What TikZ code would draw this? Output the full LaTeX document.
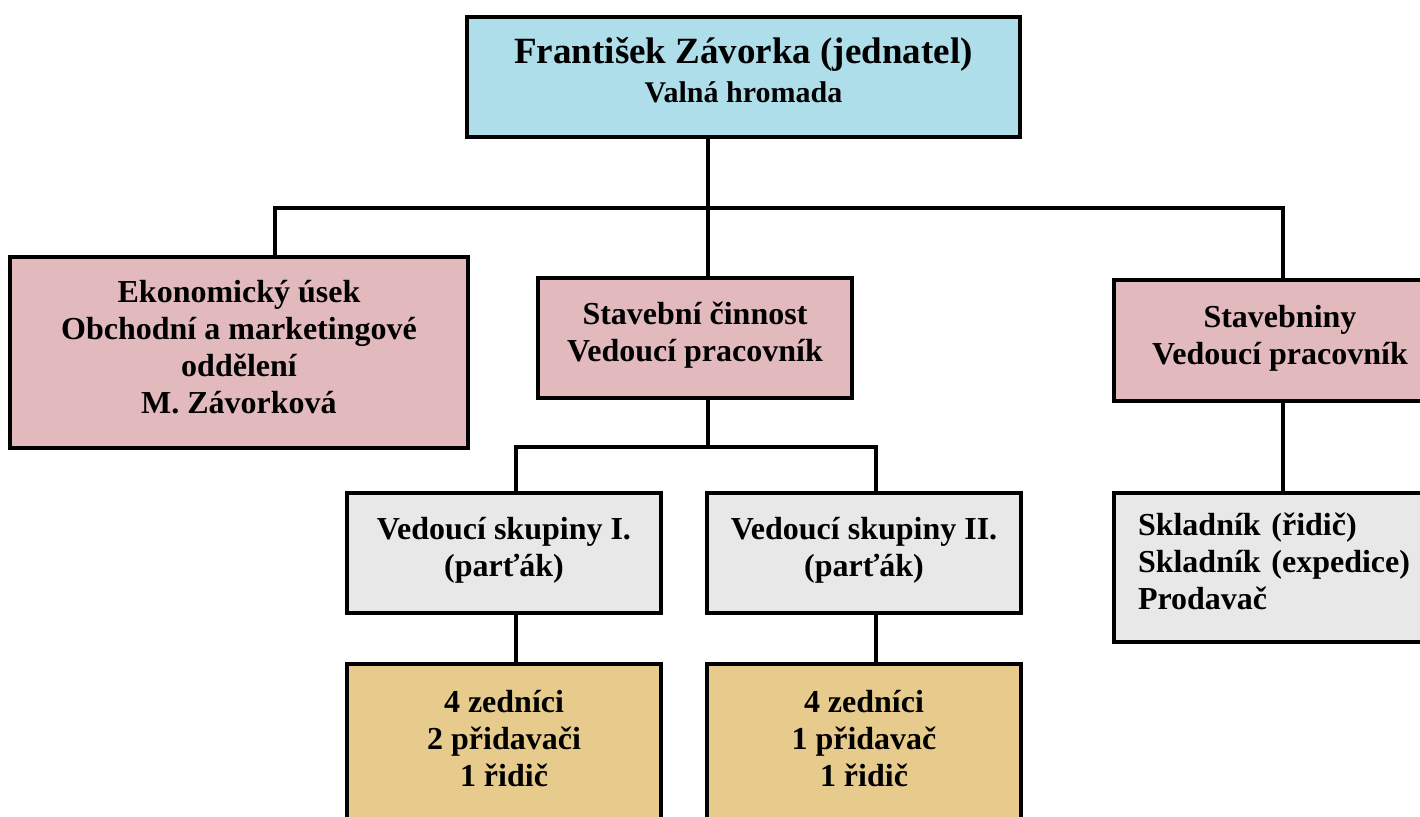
\documentclass[tikz,border=0pt]{standalone}
\usepackage{fontspec}
\setmainfont{Liberation Serif}
\definecolor{water}{HTML}{AEDEEA}
\definecolor{rosy}{HTML}{E2B9BD}
\definecolor{stone}{HTML}{E8E8E8}
\definecolor{papyrus}{HTML}{E6CB8C}
\newcommand{\topstrut}{\rule{0pt}{34pt}}
\newcommand{\botstrut}{\rule[-24pt]{0pt}{24pt}}
\begin{document}
\begin{tikzpicture}[x=1pt,y=-1pt,nodes={draw,line width=4pt,inner sep=0pt,align=center,font=\fontsize{32}{37}\selectfont\bfseries},conn/.style={line width=3.5pt}]

      \useasboundingbox (0,0) rectangle (1420,816);
      \clip (0,0) rectangle (1420,816);

      \node[fill=water,minimum width=553,minimum height=120,font=\fontsize{30}{39}\selectfont\bfseries] (top) at (743.5,77)
        {\rule{0pt}{46pt}{\fontsize{37}{39}\selectfont František Závorka (jednatel)}\\Valná hromada\rule[-35pt]{0pt}{35pt}};
      \node[fill=rosy,minimum width=458,minimum height=191] (eko) at (239,352.5)
        {\topstrut Ekonomický úsek\\Obchodní a marketingové\\oddělení\\M. Závorková\botstrut};
      \node[fill=rosy,minimum width=314,minimum height=120] (stc) at (695,338)
        {\topstrut Stavební činnost\\Vedoucí pracovník\botstrut};
      \node[fill=rosy,minimum width=332,minimum height=121] (stv) at (1280,340.5)
        {\topstrut Stavebniny\\Vedoucí pracovník\botstrut};
      \node[fill=stone,minimum width=314,minimum height=120] (grp1) at (504,553)
        {\topstrut Vedoucí skupiny I.\\(parťák)\botstrut};
      \node[fill=stone,minimum width=314,minimum height=120] (grp2) at (864,553)
        {\topstrut Vedoucí skupiny II.\\(parťák)\botstrut};
      \node[fill=stone,minimum width=332,minimum height=149,align=left,text width=284] (skl) at (1280,567.5)
        {\topstrut Skladník (řidič)\\Skladník (expedice)\\Prodavač\botstrut};
      \node[fill=papyrus,minimum width=314,minimum height=161] (crew1) at (504,744.5)
        {\topstrut 4 zedníci\\2 přidavači\\1 řidič\botstrut};
      \node[fill=papyrus,minimum width=314,minimum height=161] (crew2) at (864,744.5)
        {\topstrut 4 zedníci\\1 přidavač\\1 řidič\botstrut};

      \coordinate (lbus) at (275,208);
      \coordinate (mbus) at (708,208);
      \coordinate (rbus) at (1283,208);
      \coordinate (lsub) at (516,447);
      \coordinate (rsub) at (876,447);

      \draw[conn] (top.south -| mbus) -- (stc.north -| mbus);
      \draw[conn] (eko.north -| lbus) -- (lbus) -- (rbus) -- (stv.north -| rbus);
      \draw[conn] (stc.south -| mbus) -- (mbus |- lsub);
      \draw[conn] (grp1.north -| lsub) -- (lsub) -- (rsub) -- (grp2.north -| rsub);
      \draw[conn] (grp1.south -| lsub) -- (crew1.north -| lsub);
      \draw[conn] (grp2.south -| rsub) -- (crew2.north -| rsub);
      \draw[conn] (stv.south -| rbus) -- (skl.north -| rbus);

    \end{tikzpicture}
\end{document}
